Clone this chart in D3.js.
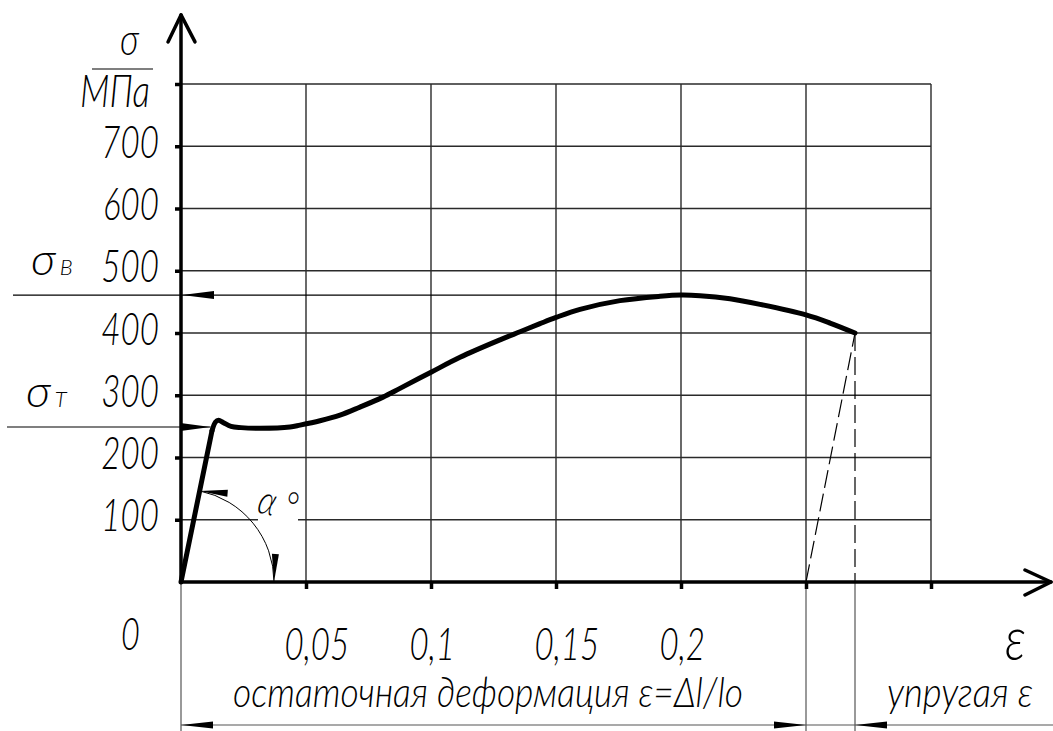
<!DOCTYPE html>
<html>
<head>
<meta charset="utf-8">
<script src="https://cdn.jsdelivr.net/npm/d3@7"></script>
<style>
body { margin: 0; background: #fff; }
text { font-family: Lato, Inter, "DejaVu Sans", sans-serif; font-style: italic; font-weight: 300; fill: #000; }
</style>
</head>
<body>
<div id="chart"></div>
<script>
// stress-strain curve (strain, MPa)
// elastic part is straight, the rest is smooth
var elasticStrain = [0, 0.0124];
var elasticStress = [0, 243];
var strain = [0.0124, 0.0138, 0.0150, 0.0170, 0.0200, 0.0240, 0.0316, 0.0436, 0.0476, 0.0556, 0.0636, 0.0716, 0.0808, 0.0876, 0.1, 0.1116, 0.1276, 0.1356, 0.1436, 0.15, 0.1596, 0.1756, 0.1916, 0.2, 0.2076, 0.2196, 0.2316, 0.25, 0.2596, 0.2696];
var stress = [243, 257, 260, 256, 250, 248, 247, 249, 252, 259, 268, 281, 297, 311, 337, 361, 389, 402, 415, 425, 438, 452, 459, 461, 460, 455, 446, 429, 416, 400];

// elastic unloading after rupture
var unloadStrain = [0.25, 0.2696];
var unloadStress = [0, 400];

// characteristic stresses
var sigmaT = 249, sigmaTStrain = 0.0118;
var sigmaB = 461, sigmaBStrain = 0.2;

// ticks
var yTicks = [100, 200, 300, 400, 500, 600, 700, 800];
var yTickLabels = ["100", "200", "300", "400", "500", "600", "700", ""];
var xTicks = [0.05, 0.1, 0.15, 0.2, 0.25, 0.3];
var xTickLabels = ["0,05", "0,1", "0,15", "0,2", "", ""];

var width = 1053, height = 731;

var svg = d3.select("#chart").append("svg")
  .attr("width", width)
  .attr("height", height);

var x = d3.scaleLinear().domain([0, 0.3]).range([181, 931]);
var y = d3.scaleLinear().domain([0, 800]).range([582, 84]);

// squeeze text horizontally, drafting fonts are narrow
function narrow(sel, f) {
  sel.each(function () {
    var L = this.getComputedTextLength();
    if (L > 0) d3.select(this).attr("textLength", L * f).attr("lengthAdjust", "spacingAndGlyphs");
  });
}

function arrowHead(g, tx, ty, ang, len, half, color) {
  // ang = direction the arrow points to (radians)
  var bx = tx - len * Math.cos(ang), by = ty - len * Math.sin(ang);
  var px = -Math.sin(ang) * half, py = Math.cos(ang) * half;
  g.append("path")
    .attr("d", "M" + tx + "," + ty + "L" + (bx + px) + "," + (by + py) + "L" + (bx - px) + "," + (by - py) + "Z")
    .style("fill", color || "#000");
}

// grid
var grid = svg.append("g");
grid.selectAll(".hg").data(yTicks).enter().append("line")
  .attr("x1", x(0)).attr("x2", x(0.3))
  .attr("y1", function (d) { return y(d); }).attr("y2", function (d) { return y(d); })
  .style("stroke", "#2a2a2a").style("stroke-width", 1.4);
grid.selectAll(".vg").data(xTicks).enter().append("line")
  .attr("x1", function (d) { return x(d); }).attr("x2", function (d) { return x(d); })
  .attr("y1", y(0)).attr("y2", y(800))
  .style("stroke", "#2a2a2a").style("stroke-width", 1.4);

// dimension lines below the axis
var dim = svg.append("g").style("stroke", "#555").style("stroke-width", 1.2);
[0, 0.25].forEach(function (d) {
  dim.append("line").attr("x1", x(d)).attr("x2", x(d)).attr("y1", y(0)).attr("y2", height);
});
dim.append("line").attr("x1", x(unloadStrain[1])).attr("x2", x(unloadStrain[1])).attr("y1", y(0)).attr("y2", height);
dim.append("line").attr("x1", x(0)).attr("x2", width).attr("y1", 725).attr("y2", 725);
arrowHead(svg, x(0), 725, Math.PI, 32, 3.5);
arrowHead(svg, x(0.25), 725, 0, 32, 3.5);
arrowHead(svg, x(unloadStrain[1]), 725, Math.PI, 32, 3.5);

// unloading dashed lines
svg.append("line")
  .attr("x1", x(unloadStrain[0])).attr("y1", y(unloadStress[0]))
  .attr("x2", x(unloadStrain[1])).attr("y2", y(unloadStress[1]))
  .style("stroke", "#000").style("stroke-width", 1.2).style("stroke-dasharray", "18,6");
svg.append("line")
  .attr("x1", x(unloadStrain[1])).attr("y1", y(unloadStress[1]))
  .attr("x2", x(unloadStrain[1])).attr("y2", y(0))
  .style("stroke", "#000").style("stroke-width", 1.2).style("stroke-dasharray", "18,6");

// sigma_B and sigma_T leader lines
svg.append("line").attr("x1", 13).attr("x2", x(sigmaBStrain))
  .attr("y1", y(sigmaB)).attr("y2", y(sigmaB))
  .style("stroke", "#000").style("stroke-width", 1.2);
arrowHead(svg, x(0) + 1, y(sigmaB), Math.PI, 32, 4);
svg.append("line").attr("x1", 7).attr("x2", x(sigmaTStrain))
  .attr("y1", y(sigmaT)).attr("y2", y(sigmaT))
  .style("stroke", "#000").style("stroke-width", 1.2);
arrowHead(svg, x(sigmaTStrain), y(sigmaT), 0, 30, 4);

// angle alpha
var r = 93;
var a0 = Math.atan2(y(0) - y(elasticStress[1]), x(elasticStrain[1]) - x(0)); // direction of elastic line
svg.append("rect").attr("x", 258).attr("y", 486).attr("width", 40).attr("height", 38).style("fill", "#fff");
var arc = d3.path();
arc.arc(x(0), y(0), r, -a0, 0);
svg.append("path").attr("d", arc.toString())
  .style("fill", "none").style("stroke", "#000").style("stroke-width", 1);
arrowHead(svg, x(0) + r * Math.cos(a0), y(0) - r * Math.sin(a0), -a0 - Math.PI / 2 - 0.12, 28, 3.5);
arrowHead(svg, x(0) + r, y(0), Math.PI / 2 + 0.05, 28, 3.5);
var al = svg.append("text").attr("transform", "translate(256,512) rotate(14)")
  .style("font-size", "40px").text("α °");
narrow(al, 0.8);

// curve
var line = d3.line()
  .x(function (d) { return x(d[0]); })
  .y(function (d) { return y(d[1]); });
var curveStyle = function (p) {
  p.style("fill", "none").style("stroke", "#000").style("stroke-width", 5)
    .style("stroke-linejoin", "round").style("stroke-linecap", "round");
};
svg.append("path")
  .datum(elasticStrain.map(function (s, i) { return [s, elasticStress[i]]; }))
  .attr("d", line)
  .call(curveStyle);
svg.append("path")
  .datum(strain.map(function (s, i) { return [s, stress[i]]; }))
  .attr("d", line.curve(d3.curveCatmullRom.alpha(0.5)))
  .call(curveStyle);

// axes
var yAxis = d3.axisLeft(y).tickValues(yTicks).tickSize(6).tickSizeOuter(0)
  .tickFormat(function (d, i) { return yTickLabels[i]; });
var gy = svg.append("g").attr("transform", "translate(" + x(0) + ",0)").call(yAxis);
gy.select(".domain").remove();
gy.selectAll(".tick line").style("stroke", "#000").style("stroke-width", 3.5);
gy.selectAll(".tick text").attr("x", -22).attr("dy", null).attr("y", 11)
  .style("font-size", "46px");
narrow(gy.selectAll(".tick text"), 0.72);

var xAxis = d3.axisBottom(x).tickValues(xTicks).tickSize(7).tickSizeOuter(0)
  .tickFormat(function (d, i) { return xTickLabels[i]; });
var gx = svg.append("g").attr("transform", "translate(0," + y(0) + ")").call(xAxis);
gx.select(".domain").remove();
gx.selectAll(".tick line").style("stroke", "#000").style("stroke-width", 3.5);
gx.selectAll(".tick text").attr("x", -22).attr("y", 78).attr("dy", null)
  .style("text-anchor", "start").style("font-size", "46px");
narrow(gx.selectAll(".tick text"), 0.72);

var yTop = 911, xEnd = 0.348;
var ax = svg.append("g").style("stroke", "#000").style("stroke-width", 3.5)
  .style("fill", "none").style("stroke-linecap", "round").style("stroke-linejoin", "round");
ax.append("line").attr("x1", x(0)).attr("x2", x(0)).attr("y1", y(0)).attr("y2", y(yTop));
ax.append("path").attr("d", "M" + (x(0) - 13) + "," + (y(yTop) + 27) + "L" + x(0) + "," + y(yTop) + "L" + (x(0) + 14) + "," + (y(yTop) + 27));
ax.append("line").attr("x1", x(0)).attr("x2", x(xEnd)).attr("y1", y(0)).attr("y2", y(0));
ax.append("path").attr("d", "M" + (x(xEnd) - 26) + "," + (y(0) - 12) + "L" + x(xEnd) + "," + y(0) + "L" + (x(xEnd) - 26) + "," + (y(0) + 13));

// labels
var lab = svg.append("g");
var t;
t = lab.append("text").attr("x", 120).attr("y", 55).style("font-size", "44px").text("σ");
narrow(t, 0.8);
lab.append("line").attr("x1", 92).attr("x2", 153).attr("y1", 69).attr("y2", 69)
  .style("stroke", "#000").style("stroke-width", 1.2);
t = lab.append("text").attr("x", 80).attr("y", 107).style("font-size", "46px").text("МПа");
narrow(t, 0.76);

t = lab.append("text").attr("x", 31).attr("y", 275).style("font-size", "46px");
t.append("tspan").text("σ");
t.append("tspan").attr("dx", 4).style("font-size", "22px").text("В");
t = lab.append("text").attr("x", 26).attr("y", 407).style("font-size", "46px");
t.append("tspan").text("σ");
t.append("tspan").attr("dx", 4).style("font-size", "22px").text("Т");

t = lab.append("text").attr("x", 121).attr("y", 650).style("font-size", "45px").text("0");
narrow(t, 0.72);
t = lab.append("text").attr("x", 1005).attr("y", 660).style("font-size", "62px").text("ε");
narrow(t, 0.8);

lab.append("text").attr("x", 233).attr("y", 707).style("font-size", "42px")
  .attr("textLength", 510).attr("lengthAdjust", "spacingAndGlyphs")
  .text("остаточная деформация ε=Δl/lo");
lab.append("text").attr("x", 887).attr("y", 707).style("font-size", "42px")
  .attr("textLength", 146).attr("lengthAdjust", "spacingAndGlyphs")
  .text("упругая ε");
</script>
</body>
</html>
